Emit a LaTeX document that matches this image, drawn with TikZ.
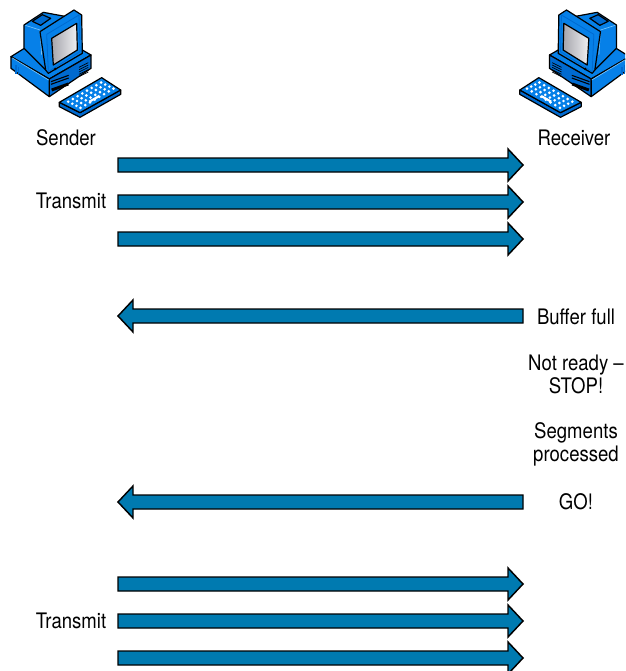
\documentclass[tikz,border=0pt]{standalone}
\usepackage{fontspec}
\setmainfont[FakeStretch=0.87]{TeX Gyre Heros}
\usetikzlibrary{calc}
\definecolor{arrowblue}{RGB}{0,122,176}
\definecolor{pcblue}{RGB}{6,128,232}
\definecolor{pcdark}{RGB}{0,106,208}
\definecolor{pclight}{RGB}{120,195,248}
\definecolor{screenlight}{RGB}{240,240,242}
\definecolor{screendark}{RGB}{165,165,172}
\tikzset{
  computer/.pic={
    \begin{scope}[scale=1/3,draw=black,line width=.9pt,line join=round]
    % case
    \draw [fill=pcblue] (33,170) -- (73,145) -- (247,150) -- (273,165) -- (148,237) -- cycle;
    \draw [fill=pcdark] (148,237) -- (273,165) -- (273,205) -- (148,290) -- cycle;
    \draw [fill=pcblue] (33,170) -- (148,237) -- (148,290) -- (33,205) -- cycle;
    \draw [pclight,line width=.5pt] (37,174) -- (146,240);
    \fill [pcdark] (46,195) rectangle (50,221);
    \fill [pcdark] (54,200) rectangle (58,226);
    \draw [line width=.8pt] (153,245) -- (206,226);
    \draw [line width=.8pt] (153,253) -- (206,234);
    \draw [line width=2.2pt] (155,270) -- (205,252);
    \foreach \i in {0,1,2,3,4}
      \draw [line width=.5pt] (237,{202+\i*7}) -- (265,{188+\i*7});
    % cabinet
    \draw [fill=pcblue] (72,75) -- (130,37) -- (200,50) -- (200,150) -- (137,210) -- (72,145) -- cycle;
    \draw [fill=pcdark] (97,64) -- (127,44) -- (152,55) -- (122,76) -- cycle;
    \draw [pclight,line width=.5pt] (76,76) -- (120,90);
    \draw [pclight,line width=.5pt] (120,92) -- (125,165);
    % monitor
    \draw [fill=pcblue] (120,95) -- (222,30) -- (245,45) -- (247,160) -- (145,220) -- (137,210) -- cycle;
    \draw [pcdark,line width=.6pt] (140,103) -- (237,45) -- (240,155) -- (145,215) -- cycle;
    \draw [left color=screendark,right color=screenlight] (155,115) -- (230,70) -- (232,150) -- (160,195) -- cycle;
    \fill (166,207) circle (4);
    % keyboard
    \draw [fill=pcdark] (178,307) -- (178,320) -- (240,352) -- (362,283) -- (362,270) -- (240,338) -- cycle;
    \draw [fill=pcblue] (178,307) -- (305,233) -- (362,270) -- (240,338) -- cycle;
    \foreach \u in {1,...,8}
      \foreach \v in {1,...,4}
        \fill [white] ($(178,307)+\u/9*(127,-74)+\v/5*(62,31)$) circle (4.4);
    \draw [white,line width=1.6pt] (268,305) -- (298,288);
    \end{scope}
  }
}
\begin{document}
\begin{tikzpicture}[x=0.75pt,y=-0.75pt]
\tikzstyle{label}=[font=\fontsize{16pt}{17.25pt}\selectfont,align=center,inner sep=0pt]
\tikzstyle{endpoint}=[coordinate]
\tikzstyle{blockarrow}=[draw=black,fill=arrowblue,line width=1.1pt,line join=miter,
  to path={
    ($(\tikztotarget)!11.25pt!(\tikztostart)$) coordinate (headbase)
    ($(\tikztostart)!5.25pt!90:(\tikztotarget)$)
    -- ($(headbase)!5.25pt!90:(\tikztotarget)$)
    -- ($(headbase)!12pt!90:(\tikztotarget)$)
    -- (\tikztotarget)
    -- ($(headbase)!12pt!-90:(\tikztotarget)$)
    -- ($(headbase)!5.25pt!-90:(\tikztotarget)$)
    -- ($(\tikztostart)!5.25pt!-90:(\tikztotarget)$)
    -- cycle}]
\clip (0,0) rectangle (625,671);

\pic at (0,0) {computer};
\pic [xscale=-1] at (640.5,0) {computer};

\node [label] at (66,138) (sender) {Sender};
\node [label] at (574,138) (receiver) {Receiver};
\node [label] at (71,201) (transmita) {Transmit};
\node [label] at (576,317) (full) {Buffer full};
\node [label] at (576,374) (stop) {Not ready --\\STOP!};
\node [label] at (576,444) (processed) {Segments\\processed};
\node [label] at (576,502) (go) {GO!};
\node [label] at (71,621) (transmitb) {Transmit};

\node [endpoint] at (118,165) (s1) {};
\node [endpoint] at (523,165) (r1) {};
\node [endpoint] at (118,202) (s2) {};
\node [endpoint] at (523,202) (r2) {};
\node [endpoint] at (118,239) (s3) {};
\node [endpoint] at (523,239) (r3) {};
\node [endpoint] at (118,316) (s4) {};
\node [endpoint] at (523,316) (r4) {};
\node [endpoint] at (118,502) (s5) {};
\node [endpoint] at (523,502) (r5) {};
\node [endpoint] at (118,584) (s6) {};
\node [endpoint] at (523,584) (r6) {};
\node [endpoint] at (118,621) (s7) {};
\node [endpoint] at (523,621) (r7) {};
\node [endpoint] at (118,658) (s8) {};
\node [endpoint] at (523,658) (r8) {};

\draw [blockarrow] (s1) to (r1);
\draw [blockarrow] (s2) to (r2);
\draw [blockarrow] (s3) to (r3);
\draw [blockarrow] (r4) to (s4);
\draw [blockarrow] (r5) to (s5);
\draw [blockarrow] (s6) to (r6);
\draw [blockarrow] (s7) to (r7);
\draw [blockarrow] (s8) to (r8);
\end{tikzpicture}
\end{document}
